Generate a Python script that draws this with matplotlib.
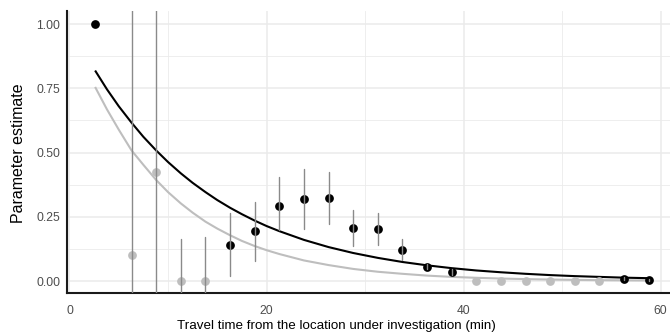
import matplotlib
matplotlib.use("Agg")
import matplotlib.pyplot as plt
from matplotlib import font_manager
import numpy as np

# ---------------- data ----------------
travel_time = [2.6, 6.3, 8.8, 11.3, 13.8, 16.3, 18.8, 21.3, 23.8, 26.3, 28.8, 31.3,
               33.8, 36.3, 38.8, 41.3, 43.8, 46.3, 48.8, 51.3, 53.8, 56.3, 58.8]
estimate = [1.00, 0.10, 0.425, 0.00, 0.00, 0.14, 0.195, 0.292, 0.319, 0.324, 0.205, 0.202,
            0.122, 0.056, 0.035, 0.00, 0.00, 0.00, 0.00, 0.00, 0.00, 0.009, 0.004]
lower = [1.00, -0.60, -0.40, -0.163, -0.172, 0.019, 0.079, 0.198, 0.204, 0.222, 0.136, 0.140,
         0.082, 0.045, 0.025, 0.00, 0.00, 0.00, 0.00, 0.00, 0.00, 0.003, 0.000]
upper = [1.00, 1.50, 1.30, 0.163, 0.172, 0.263, 0.309, 0.403, 0.435, 0.425, 0.275, 0.263,
         0.163, 0.067, 0.045, 0.00, 0.00, 0.00, 0.00, 0.00, 0.00, 0.015, 0.008]
significant = [True, False, False, False, False, True, True, True, True, True, True, True,
               True, True, True, False, False, False, False, False, False, True, True]

curve_x = [2.6, 3.8, 5.0, 6.3, 7.5, 8.8, 10.0, 11.3, 12.5, 13.8, 15.0, 16.3, 17.5, 18.8,
           20.0, 21.3, 23.8, 26.3, 28.8, 31.3, 33.8, 36.3, 38.8, 41.3, 43.8, 46.3, 48.8,
           51.3, 53.8, 56.3, 58.8]
curve_black = [0.819, 0.746, 0.680, 0.616, 0.561, 0.508, 0.463, 0.419, 0.382, 0.346, 0.315,
               0.285, 0.260, 0.235, 0.214, 0.194, 0.160, 0.132, 0.109, 0.090, 0.074, 0.061,
               0.050, 0.041, 0.034, 0.028, 0.023, 0.019, 0.016, 0.013, 0.011]
curve_grey = [0.755, 0.668, 0.589, 0.508, 0.452, 0.393, 0.346, 0.302, 0.266, 0.231, 0.204,
              0.178, 0.156, 0.136, 0.120, 0.105, 0.080, 0.062, 0.047, 0.036, 0.028, 0.021,
              0.016, 0.0125, 0.0096, 0.0074, 0.0057, 0.0044, 0.0033, 0.0026, 0.0020]

x_ticks = [0, 20, 40, 60]
x_tick_labels = ["0", "20", "40", "60"]
y_ticks = [0.00, 0.25, 0.50, 0.75, 1.00]
y_tick_labels = ["0.00", "0.25", "0.50", "0.75", "1.00"]
x_title = "Travel time from the location under investigation (min)"
y_title = "Parameter estimate"

# ---------------- fonts ----------------
def has_font(name):
    try:
        font_manager.findfont(name, fallback_to_default=False)
        return True
    except Exception:
        return False

base_font = "Liberation Sans" if has_font("Liberation Sans") else "DejaVu Sans"
narrow_ok = has_font("Liberation Sans Narrow")
plt.rcParams["font.family"] = [base_font, "DejaVu Sans"]

BLACK = "#000000"
GREY_PT = "#BEBEBE"
GREY_BAR = "#8A8A8A"
GRID = "#EBEBEB"

fig = plt.figure(figsize=(6.7, 3.33), dpi=100)
ax = fig.add_axes([66.7 / 670, 1 - 292.7 / 333, 1 - 66.7 / 670, (292.7 - 11) / 333])
ax.set_xlim(-0.284, 60.96)
ax.set_ylim(-0.0455, 1.0506)

# grid
ax.set_xticks(x_ticks)
ax.set_xticklabels(x_tick_labels)
ax.set_yticks(y_ticks)
ax.set_yticklabels(y_tick_labels)
ax.set_xticks([10, 30, 50], minor=True)
ax.set_yticks([0.125, 0.375, 0.625, 0.875], minor=True)
ax.grid(True, which="major", color=GRID, lw=1.1, zorder=0)
ax.grid(True, which="minor", color=GRID, lw=0.6, zorder=0)
ax.set_axisbelow(True)
ax.tick_params(which="both", length=0)
ax.tick_params(axis="x", pad=8.5, labelsize=8.7, labelcolor="#4D4D4D")
ax.tick_params(axis="y", pad=4.6, labelsize=8.7, labelcolor="#4D4D4D")

for side in ["top", "right"]:
    ax.spines[side].set_visible(False)
for side in ["left", "bottom"]:
    ax.spines[side].set_color("#1A1A1A")
    ax.spines[side].set_linewidth(1.5)

# fitted curves
ax.plot(curve_x, curve_grey, color=GREY_PT, lw=1.5, zorder=2, solid_capstyle="butt",
        solid_joinstyle="round")
ax.plot(curve_x, curve_black, color=BLACK, lw=1.5, zorder=3, solid_capstyle="butt",
        solid_joinstyle="round")

# points
tt = np.array(travel_time)
est = np.array(estimate)
sig = np.array(significant)
ax.plot(tt[~sig], est[~sig], "o", color=GREY_PT, ms=6.3, mew=0, zorder=4, clip_on=False)
ax.plot(tt[sig], est[sig], "o", color=BLACK, ms=6.3, mew=0, zorder=4, clip_on=False)

# error bars
ax.vlines(travel_time, lower, upper, colors=GREY_BAR, lw=1.0, zorder=5, capstyle="round")

# titles
if narrow_ok:
    fig.text(336.5 / 670, (333 - 329.3) / 333, x_title, ha="center", va="baseline",
             fontsize=11.5, family=["Liberation Sans Narrow", "DejaVu Sans"], color="black")
else:
    fig.text(336.5 / 670, (333 - 329.3) / 333, x_title, ha="center", va="baseline",
             fontsize=9.6, color="black")
fig.text(23.5 / 670, (333 - 152.8) / 333, y_title, rotation=90, rotation_mode="anchor",
         ha="center", va="baseline", fontsize=11.5, color="black")

fig.savefig("out.png", dpi=100)
